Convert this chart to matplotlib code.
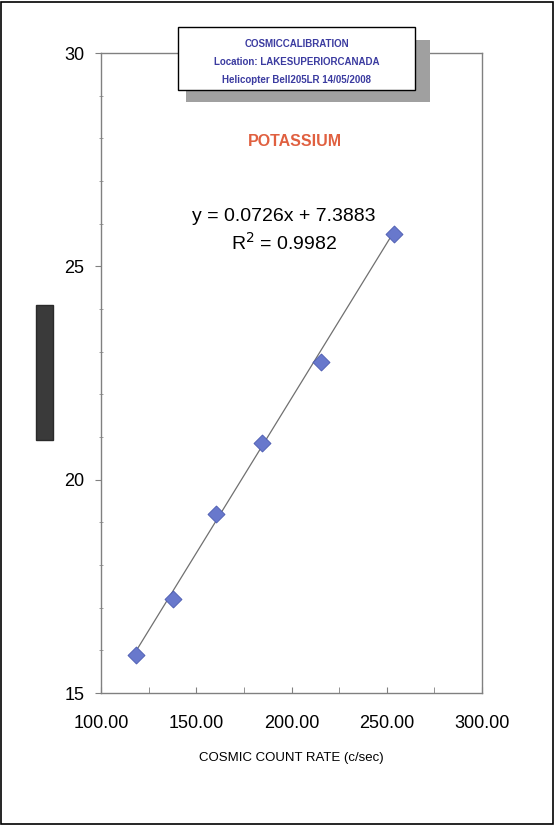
import matplotlib
matplotlib.use("Agg")
import matplotlib.pyplot as plt
from matplotlib.patches import Rectangle
from matplotlib.ticker import MultipleLocator, FormatStrFormatter
import numpy as np

count_rate = [118.5, 137.8, 160.4, 184.5, 215.5, 253.8]
potassium = [15.88, 17.2, 19.2, 20.85, 22.75, 25.75]
slope = 0.0726
intercept = 7.3883
r2 = 0.9982
x_ticks = [100, 150, 200, 250, 300]
y_ticks = [15, 20, 25, 30]
box_lines = ["COSMICCALIBRATION", "Location: LAKESUPERIORCANADA", "Helicopter Bell205LR 14/05/2008"]

plt.rcParams['font.family'] = ['Liberation Sans', 'DejaVu Sans']
fig = plt.figure(figsize=(5.55, 8.25), dpi=100)
W, H = 555, 825
# page border
fig.patches.append(Rectangle((1/W, 1/H), 1 - 3/W, 1 - 3/H, transform=fig.transFigure,
                             fill=False, edgecolor='black', linewidth=1.2))
# dark bar on the left
fig.patches.append(Rectangle((36/W, 1 - 440/H), 17/W, 135/H, transform=fig.transFigure,
                             facecolor='#3a3a3a', edgecolor='#2a2a2a'))

ax = fig.add_axes([101/W, 1 - 693/H, 381/W, 640/H])
ax.set_xlim(100, 300)
ax.set_ylim(15, 30)
xs = np.array([min(count_rate), max(count_rate)])
ax.plot(xs, slope * xs + intercept, color='#707070', linewidth=0.9, zorder=2)
ax.scatter(count_rate, potassium, marker='D', s=75, facecolor='#6878cc',
           edgecolor='#4a5ab0', linewidth=0.6, zorder=3)

for s in ax.spines.values():
    s.set_color('#808080')
    s.set_linewidth(1.0)
ax.set_xticks(x_ticks)
ax.set_yticks(y_ticks)
ax.xaxis.set_minor_locator(MultipleLocator(25))
ax.yaxis.set_minor_locator(MultipleLocator(1))
ax.xaxis.set_major_formatter(FormatStrFormatter('%.2f'))
ax.tick_params(axis='x', which='both', direction='in', length=4, color='#808080', labelsize=13, pad=16)
ax.tick_params(axis='y', which='major', direction='out', length=4, color='#808080', labelsize=13, pad=8)
ax.tick_params(axis='y', which='minor', direction='inout', length=3, color='#909090')
ax.set_xlabel("COSMIC COUNT RATE (c/sec)", fontsize=9.5, labelpad=14)

ax.text(0.51, 0.862, "POTASSIUM", transform=ax.transAxes, ha='center', va='center',
        color='#e06040', fontsize=11.5, fontweight='bold')
ax.text(0.48, 0.745, f"y = {slope}x + {intercept}", transform=ax.transAxes,
        ha='center', va='center', fontsize=14)
ax.text(0.48, 0.704, f"R$^2$ = {r2}", transform=ax.transAxes,
        ha='center', va='center', fontsize=14)

# title box with shadow
fig.patches.append(Rectangle((186/W, 1 - 102/H), 244/W, 62/H, transform=fig.transFigure,
                             facecolor='#a0a0a0', edgecolor='none', zorder=5))
fig.patches.append(Rectangle((178/W, 1 - 90/H), 237/W, 63/H, transform=fig.transFigure,
                             facecolor='white', edgecolor='black', linewidth=1.0, zorder=6))
for i, t in enumerate(box_lines):
    fig.text(297/W, 1 - (44 + i * 18) / H, t, ha='center', va='center', fontsize=7,
             color='#3b3ba0', fontweight='bold', zorder=7)

fig.savefig("out.png", dpi=100)
